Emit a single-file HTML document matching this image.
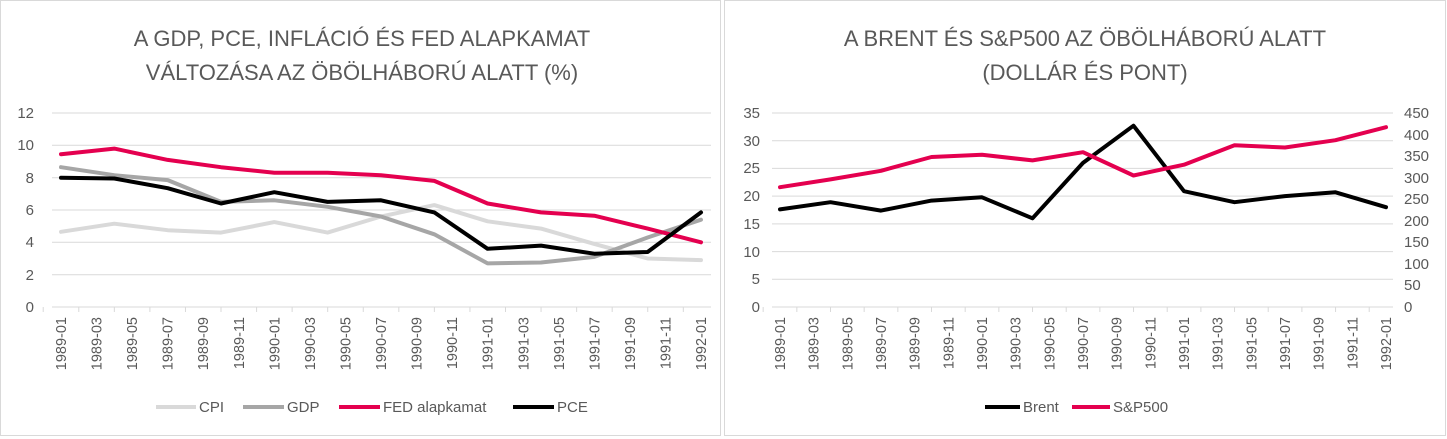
<!DOCTYPE html>
<html><head><meta charset="utf-8"><style>
html,body{margin:0;padding:0;background:#fff;}
svg{display:block;font-family:"Liberation Sans",sans-serif;}
</style></head><body>
<svg width="1447" height="439" viewBox="0 0 1447 439" xmlns="http://www.w3.org/2000/svg">
<rect x="0.5" y="0.5" width="720" height="435" fill="#fff" stroke="#d9d9d9"/>
<rect x="724.5" y="0.5" width="721" height="435" fill="#fff" stroke="#d9d9d9"/>
<g fill="#595959" font-size="22" text-anchor="middle">
<text x="362" y="46">A GDP, PCE, INFLÁCIÓ ÉS FED ALAPKAMAT</text>
<text x="362" y="80">VÁLTOZÁSA AZ ÖBÖLHÁBORÚ ALATT (%)</text>
<text x="1085" y="46">A BRENT ÉS S&amp;P500 AZ ÖBÖLHÁBORÚ ALATT</text>
<text x="1085" y="80">(DOLLÁR ÉS PONT)</text>
</g>
<g stroke="#d9d9d9" stroke-width="1">
<line x1="52" x2="711" y1="113" y2="113"/><line x1="52" x2="711" y1="145.3" y2="145.3"/><line x1="52" x2="711" y1="177.7" y2="177.7"/><line x1="52" x2="711" y1="210" y2="210"/><line x1="52" x2="711" y1="242.3" y2="242.3"/><line x1="52" x2="711" y1="274.7" y2="274.7"/><line x1="52" x2="711" y1="307" y2="307"/>
<line x1="772" x2="1393" y1="113" y2="113"/><line x1="772" x2="1393" y1="140.7" y2="140.7"/><line x1="772" x2="1393" y1="168.4" y2="168.4"/><line x1="772" x2="1393" y1="196.1" y2="196.1"/><line x1="772" x2="1393" y1="223.9" y2="223.9"/><line x1="772" x2="1393" y1="251.6" y2="251.6"/><line x1="772" x2="1393" y1="279.3" y2="279.3"/><line x1="772" x2="1393" y1="307" y2="307"/>
</g>
<g id="ticks" stroke="#d9d9d9" stroke-width="1"></g>
<g fill="#595959" font-size="15" text-anchor="end">
<text x="34" y="118">12</text><text x="34" y="150">10</text><text x="34" y="183">8</text><text x="34" y="215">6</text><text x="34" y="247">4</text><text x="34" y="280">2</text><text x="34" y="312">0</text>
<text x="760" y="118">35</text><text x="760" y="146">30</text><text x="760" y="173">25</text><text x="760" y="201">20</text><text x="760" y="229">15</text><text x="760" y="257">10</text><text x="760" y="284">5</text><text x="760" y="312">0</text>
</g>
<g fill="#595959" font-size="15" text-anchor="start">
<text x="1404" y="118">450</text><text x="1404" y="140">400</text><text x="1404" y="161">350</text><text x="1404" y="183">300</text><text x="1404" y="204">250</text><text x="1404" y="226">200</text><text x="1404" y="247">150</text><text x="1404" y="269">100</text><text x="1404" y="290">50</text><text x="1404" y="312">0</text>
</g>
<g id="labsL" fill="#595959" font-size="14.5" text-anchor="end"></g>
<g id="labsR" fill="#595959" font-size="14.5" text-anchor="end"></g>
<g fill="none" stroke-width="4" stroke-linejoin="round" stroke-linecap="round">
<polyline id="cpi" stroke="#d9d9d9"/>
<polyline id="gdp" stroke="#a6a6a6"/>
<polyline id="fed" stroke="#e4004f"/>
<polyline id="pce" stroke="#000"/>
<polyline id="brent" stroke="#000"/>
<polyline id="sp" stroke="#e4004f"/>
</g>
<g stroke-width="4">
<line x1="156" x2="196" y1="407" y2="407" stroke="#d9d9d9"/>
<line x1="243" x2="284" y1="407" y2="407" stroke="#a6a6a6"/>
<line x1="339" x2="380" y1="407" y2="407" stroke="#e4004f"/>
<line x1="513" x2="554" y1="407" y2="407" stroke="#000"/>
<line x1="985" x2="1020" y1="407" y2="407" stroke="#000"/>
<line x1="1072" x2="1110" y1="407" y2="407" stroke="#e4004f"/>
</g>
<g fill="#595959" font-size="15">
<text x="199" y="412">CPI</text><text x="287" y="412">GDP</text><text x="383" y="412">FED alapkamat</text><text x="557" y="412">PCE</text>
<text x="1023" y="412">Brent</text><text x="1113" y="412">S&amp;P500</text>
</g>
</svg>
<script>
var ns="http://www.w3.org/2000/svg";
var labs=["1989-01","1989-03","1989-05","1989-07","1989-09","1989-11","1990-01","1990-03","1990-05","1990-07","1990-09","1990-11","1991-01","1991-03","1991-05","1991-07","1991-09","1991-11","1992-01"];
var tk=document.getElementById("ticks");
function addLabs(id,x0,dx){var g=document.getElementById(id);labs.forEach(function(l,j){var t=document.createElementNS(ns,"text");var x=x0+j*dx;t.setAttribute("transform","translate("+(x+5)+",317) rotate(-90)");t.textContent=l;g.appendChild(t);
var ln=document.createElementNS(ns,"line");var tx=x-dx/2;ln.setAttribute("x1",tx);ln.setAttribute("x2",tx);ln.setAttribute("y1",307);ln.setAttribute("y2",312);tk.appendChild(ln);});}
addLabs("labsL",61,35.56);addLabs("labsR",780,33.67);
function pl(id,vals,x0,dx,y0,k){var p=vals.map(function(v,i){return (x0+i*dx).toFixed(1)+","+(y0-v*k).toFixed(1)}).join(" ");document.getElementById(id).setAttribute("points",p);}
var kL=194/12;
pl("cpi",[4.65,5.15,4.75,4.6,5.25,4.6,5.6,6.3,5.3,4.85,3.9,3.0,2.9],61,53.33,307,kL);
pl("gdp",[8.65,8.15,7.85,6.5,6.6,6.2,5.6,4.5,2.7,2.75,3.1,4.3,5.4],61,53.33,307,kL);
pl("fed",[9.45,9.8,9.1,8.65,8.3,8.3,8.15,7.8,6.4,5.85,5.65,4.85,4.0],61,53.33,307,kL);
pl("pce",[8.0,7.95,7.35,6.4,7.1,6.5,6.6,5.85,3.6,3.8,3.3,3.4,5.85],61,53.33,307,kL);
pl("brent",[17.6,18.9,17.4,19.2,19.8,16.0,26.0,32.7,20.9,18.9,20.0,20.7,18.0],780,50.5,307,194/35);
pl("sp",[278,296,316,348,353,340,359,305,330,375,370,387,417],780,50.5,307,194/450);
</script>
</body></html>
